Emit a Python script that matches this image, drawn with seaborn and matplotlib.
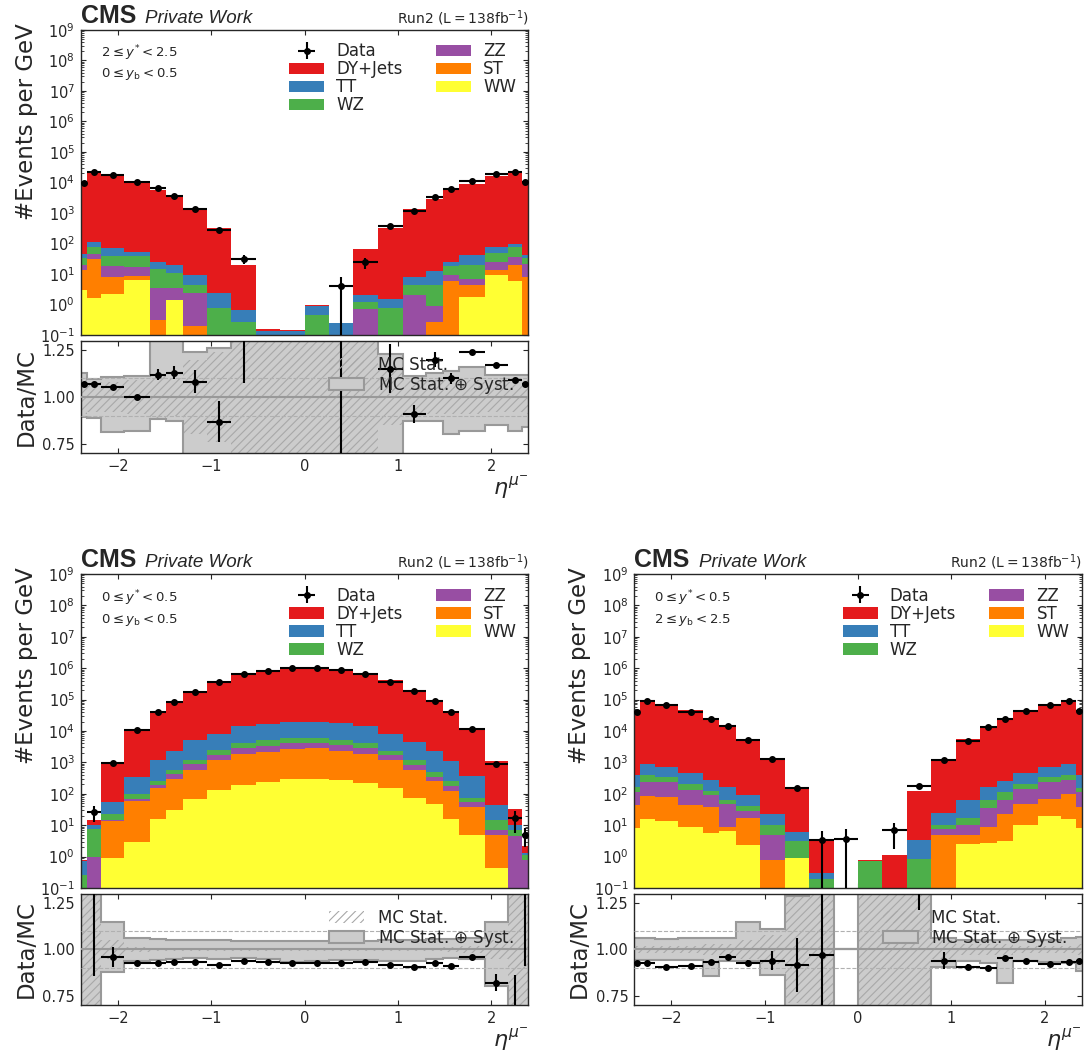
import numpy as np
import pandas as pd
import matplotlib
matplotlib.use("Agg")
import matplotlib.pyplot as plt
import seaborn as sns
from matplotlib.patches import Patch
from matplotlib.ticker import LogLocator, NullFormatter, FixedLocator, FormatStrFormatter

nan = np.nan

# ---------------- data ----------------
edges = [-2.4, -2.335, -2.18, -1.93, -1.66, -1.485, -1.305, -1.05, -0.785, -0.52, -0.26, 0.0,
         0.26, 0.52, 0.785, 1.05, 1.305, 1.485, 1.66, 1.93, 2.18, 2.335, 2.4]
processes = ["DY+Jets", "TT", "WZ", "ZZ", "ST", "WW"]
xticks = [-2, -1, 0, 1, 2]
ratio_ticks = [0.75, 1.00, 1.25]

# Panel A: 2 <= y* < 2.5, 0 <= yb < 0.5
A_dy = [9260, 19900, 16100, 10450, 5680, 3280, 1220, 313, 19.3, 0.015, 0.007, 0.07, 0.01, 62, 313, 1290, 2790, 5680, 8860, 15700, 19900, 9860]
A_tt = [10, 36, 31, 15, 11, 8.7, 4.7, 1.63, 0.4, 0.14, 0.136, 0.45, 0.24, 0.77, 0.76, 3.6, 8.1, 5.5, 22.5, 28, 22, 8]
A_wz = [14, 35, 20.5, 21.9, 10.5, 7.4, 2.0, 0.77, 0.26, 0, 0, 0.46, 0, 0.49, 0.77, 2.43, 3.29, 9.4, 12.5, 22, 39, 12]
A_zz = [6.7, 14, 10.5, 8.8, 3.2, 2.05, 2.2, 0, 0, 0, 0, 0, 0, 0.71, 0, 1.97, 0.65, 3.4, 2.6, 11.7, 16.5, 14]
A_st = [10.4, 28.4, 5.8, 1.8, 0.31, 0, 0.2, 0, 0, 0, 0, 0, 0, 0, 0, 0, 0.26, 5.7, 2.6, 4.2, 13.8, 8.0]
A_ww = [2.9, 1.65, 2.2, 6.5, 0, 1.35, 0, 0, 0, 0, 0, 0, 0, 0, 0, 0, 0, 0, 1.8, 9.1, 5.7, 0]
A_data = [9950, 21400, 17000, 10500, 6380, 3730, 1330, 274, 32, nan, nan, nan, 4.1, 24, 362, 1180, 3360, 6270, 11040, 18500, 21800, 10600]
A_err = [100, 200, 130, 105, 170, 115, 74, 35, 10.5, 0, 0, 0, 4.0, 10, 41, 65, 112, 170, 89, 80, 100, 100]
A_syst_hi = [1.127, 1.094, 1.107, 1.115, 1.35, 1.35, 1.24, 1.26, 1.35, 1.35, 1.35, 1.35, 1.35, 1.35, 1.23, 1.11, 1.13, 1.14, 1.16, 1.12, 1.12, 1.12]
A_syst_lo = [0.893, 0.89, 0.81, 0.82, 0.88, 0.87, 0.65, 0.65, 0.65, 0.65, 0.65, 0.65, 0.65, 0.65, 0.65, 0.87, 0.87, 0.80, 0.82, 0.85, 0.82, 0.84]
A_stat = [0.09, 0.08, 0.08, 0.09, 0.11, 0.10, 0.20, 0.24, 1, 1, 1, 1, 1, 1, 0.15, 0.09, 0.09, 0.09, 0.09, 0.08, 0.08, 0.09]

# Panel B: 0 <= y* < 0.5, 0 <= yb < 0.5
B_dy = [0.06, 4.2, 946, 11360, 40850, 89700, 185000, 381800, 665500, 863800, 1050600, 1050600, 912400, 705500, 401800, 200400, 93700, 42900, 11640, 1055, 23, 0.9]
B_tt = [0.48, 2.9, 32, 242, 900, 1710, 3820, 5800, 10500, 11200, 13500, 13500, 12600, 10500, 5900, 3420, 1800, 850, 285, 29, 3.2, 0.2]
B_wz = [0.26, 6.5, 7, 30, 60, 160, 320, 650, 1100, 1600, 1600, 1600, 1400, 1100, 550, 380, 150, 70, 22, 8.2, 2.3, 0.3]
B_zz = [0, 1.0, 1.8, 8, 42, 130, 270, 570, 1020, 1250, 1700, 1500, 1300, 1020, 570, 230, 100, 60, 15, 2.1, 4.5, 0.8]
B_st = [0, 0, 12.3, 57, 132, 269, 522, 1052, 1690, 1915, 2300, 2500, 2020, 1660, 1030, 494, 202, 104, 33, 4.3, 0, 0]
B_ww = [0, 0, 0.9, 3.0, 16, 31, 68, 128, 190, 235, 300, 300, 280, 220, 150, 76, 48, 16, 5.0, 0.42, 0, 0]
B_data = [nan, 26, 960, 10820, 38980, 85560, 177650, 358000, 639200, 818400, 989750, 991900, 863000, 669600, 375150, 185500, 88800, 40130, 11520, 902, 17, 5]
B_err = [0, 13.5, 55, 117, 200, 300, 400, 600, 800, 900, 1000, 1000, 900, 800, 600, 400, 300, 200, 110, 50, 11.5, 3]
B_syst_hi = [1.35, 1.35, 1.15, 1.063, 1.059, 1.053, 1.051, 1.049, 1.047, 1.047, 1.047, 1.047, 1.047, 1.047, 1.049, 1.053, 1.059, 1.059, 1.06, 1.15, 1.35, 1.35]
B_syst_lo = [0.65, 0.65, 0.88, 0.94, 0.945, 0.948, 0.955, 0.948, 0.955, 0.948, 0.93, 0.94, 0.945, 0.945, 0.94, 0.94, 0.948, 0.955, 0.95, 0.80, 0.65, 0.65]
B_stat = [1, 1, 0.05, 0.015, 0.01, 0.01, 0.01, 0.01, 0.01, 0.01, 0.01, 0.01, 0.01, 0.01, 0.01, 0.01, 0.01, 0.015, 0.02, 0.05, 1, 1]

# Panel C: 0 <= y* < 0.5, 2 <= yb < 2.5
C_dy = [44590, 95130, 74260, 44535, 25720, 14340, 5307, 1368, 164, 3.1, 0, 0.03, 1.1, 118.5, 1276, 5438, 14240, 25750, 44530, 74260, 94130, 44590]
C_tt = [240, 460, 390, 265, 158, 97, 51, 12.2, 2.8, 0.11, 0, 0, 0, 2.64, 13.5, 45, 98, 140, 265, 390, 460, 260]
C_wz = [60, 165, 115, 70, 32, 15, 13, 5.1, 2.3, 0.19, 0, 0.75, 0, 0.86, 2.8, 7, 26, 48, 65, 115, 130, 40]
C_zz = [65, 160, 154, 85, 52, 39.5, 12, 3.9, 0, 0, 0, 0, 0, 0, 3.0, 5.3, 27, 39, 92, 165, 185, 72]
C_st = [37, 69, 67, 36.5, 32.5, 2, 14.6, 0.8, 0, 0, 0, 0, 0, 0, 4.7, 2.2, 6.2, 19.8, 37.5, 51, 79, 30]
C_ww = [8, 16, 14, 8.5, 5.5, 6.5, 2.4, 0, 0.9, 0, 0, 0, 0, 0, 0, 2.5, 2.8, 3.2, 10.5, 19, 16, 8]
C_data = [41600, 88800, 67900, 40950, 24180, 13920, 5020, 1307, 156, 3.3, 3.7, nan, 6.8, 177, 1222, 4980, 12960, 24830, 42080, 69000, 88830, 42300]
C_err = [200, 300, 250, 200, 150, 120, 70, 70, 25, 3.2, 3.6, 0, 5, 29, 58, 75, 120, 160, 200, 260, 300, 210]
C_syst_hi = [1.063, 1.063, 1.057, 1.063, 1.063, 1.063, 1.15, 1.11, 1.29, 1.35, 1.0, 1.35, 1.35, 1.35, 1.063, 1.053, 1.053, 1.053, 1.053, 1.053, 1.063, 1.067]
C_syst_lo = [0.945, 0.945, 0.945, 0.945, 0.857, 0.94, 0.94, 0.86, 0.6, 0.65, 1.0, 0.65, 0.65, 0.65, 0.906, 0.94, 0.925, 0.82, 0.94, 0.935, 0.925, 0.885]
C_stat = [0.02, 0.02, 0.02, 0.02, 0.03, 0.03, 0.05, 0.08, 0.29, 1, 0, 1, 1, 1, 0.05, 0.03, 0.03, 0.03, 0.02, 0.02, 0.02, 0.03]

A_labels = [r"$2 \leq y^{*} < 2.5$", r"$0 \leq y_{\mathrm{b}} < 0.5$"]
B_labels = [r"$0 \leq y^{*} < 0.5$", r"$0 \leq y_{\mathrm{b}} < 0.5$"]
C_labels = [r"$0 \leq y^{*} < 0.5$", r"$2 \leq y_{\mathrm{b}} < 2.5$"]

# ---------------- style ----------------
sns.set_style("ticks")
plt.rcParams["font.family"] = ["DejaVu Sans"]
plt.rcParams["hatch.linewidth"] = 0.8
plt.rcParams["axes.linewidth"] = 1.0

palette = dict(zip(processes, sns.color_palette("Set1", 6)))

edges_arr = np.array(edges)
centers = 0.5 * (edges_arr[1:] + edges_arr[:-1])
halfw = 0.5 * (edges_arr[1:] - edges_arr[:-1])

fig = plt.figure(figsize=(10.87, 10.54), dpi=100)
W = 0.4121
XL, XR = 0.0741, 0.5833
pos = {
    "A": (XL, 0.6822, 0.2894, 0.5702, 0.1063),
    "B": (XL, 0.1575, 0.2979, 0.0465, 0.1053),
    "C": (XR, 0.1575, 0.2979, 0.0465, 0.1053),
}

panels = {
    "A": ([A_dy, A_tt, A_wz, A_zz, A_st, A_ww], A_data, A_err, A_syst_hi, A_syst_lo, A_stat, A_labels),
    "B": ([B_dy, B_tt, B_wz, B_zz, B_st, B_ww], B_data, B_err, B_syst_hi, B_syst_lo, B_stat, B_labels),
    "C": ([C_dy, C_tt, C_wz, C_zz, C_st, C_ww], C_data, C_err, C_syst_hi, C_syst_lo, C_stat, C_labels),
}

grey_fill = "#cccccc"
grey_edge = "#999999"
TICKSIZE = 10.5

for key, (comps, data, err, shi, slo, stat, labels) in panels.items():
    x0, y0m, hm, y0r, hr = pos[key]
    ax = fig.add_axes([x0, y0m, W, hm])
    axr = fig.add_axes([x0, y0r, W, hr])

    rows = []
    for name, vals in zip(processes, comps):
        for c, v in zip(centers, vals):
            rows.append((c, v, name))
    df = pd.DataFrame(rows, columns=["eta", "w", "process"])
    sns.histplot(data=df, x="eta", weights="w", hue="process", hue_order=processes,
                 bins=edges, multiple="stack", palette=palette, alpha=1, linewidth=0,
                 legend=False, ax=ax)
    ax.set_yscale("log")

    data = np.array(data, dtype=float)
    err = np.array(err, dtype=float)
    total = np.sum(np.array(comps, dtype=float), axis=0)

    eb = ax.errorbar(centers, data, xerr=halfw, yerr=err, fmt="o", ms=4, color="k",
                     elinewidth=1.5, capsize=0, zorder=5)

    ax.set_xlim(-2.4, 2.4)
    ax.set_ylim(0.1, 1e9)
    ax.yaxis.set_major_locator(LogLocator(base=10, numticks=20))
    ax.yaxis.set_minor_locator(LogLocator(base=10, subs=np.arange(2, 10), numticks=20))
    ax.yaxis.set_minor_formatter(NullFormatter())
    ax.xaxis.set_major_locator(FixedLocator(xticks))
    ax.tick_params(which="both", direction="in", top=True, right=True, labelbottom=False)
    ax.tick_params(which="major", length=3.5, labelsize=TICKSIZE, pad=4)
    ax.tick_params(which="minor", length=2)
    ax.set_xlabel("")
    ax.set_ylabel("#Events per GeV", fontsize=16.5, loc="top")
    ax.yaxis.set_label_coords(-0.096, 1.023)

    handles = [eb] + [Patch(facecolor=palette[p], edgecolor="none") for p in processes]
    ax.legend(handles, ["Data"] + processes, ncol=2, loc="upper right", frameon=False,
              fontsize=12, labelspacing=0.0, handlelength=2.1, handletextpad=0.72,
              columnspacing=2.0, borderaxespad=0.35)

    ax.text(0.045, 0.924, labels[0], transform=ax.transAxes, fontsize=9.5, va="center")
    ax.text(0.045, 0.855, labels[1], transform=ax.transAxes, fontsize=9.5, va="center")

    ax.text(0.0, 1.022, "CMS", transform=ax.transAxes, fontsize=18, fontweight="bold",
            family=["Liberation Sans", "DejaVu Sans"], va="baseline")
    ax.text(0.144, 1.022, "Private Work", transform=ax.transAxes, fontsize=13.5, style="italic",
            family=["Liberation Sans", "DejaVu Sans"], va="baseline")
    ax.text(1.0, 1.022, r"Run2 ($\mathrm{L}=138\mathrm{fb}^{-1}$)", transform=ax.transAxes,
            fontsize=10, ha="right", va="baseline")

    # ratio panel
    safe_total = np.where(total > 0, total, 1.0)
    ratio = np.where(total > 0, data / safe_total, nan)
    rerr = np.where(total > 0, err / safe_total, nan)
    shi_a = np.array(shi, dtype=float)
    slo_a = np.array(slo, dtype=float)
    stat_a = np.array(stat, dtype=float)

    axr.stairs(shi_a, edges, baseline=slo_a, fill=True, facecolor=grey_fill,
               edgecolor="none", zorder=1)
    axr.stairs(1 + stat_a, edges, baseline=1 - stat_a, fill=True, facecolor="none",
               edgecolor="#a8a8a8", hatch="////", linewidth=0, zorder=2)
    axr.stairs(shi_a, edges, baseline=None, color=grey_edge, lw=1.5, zorder=2)
    axr.stairs(slo_a, edges, baseline=None, color=grey_edge, lw=1.5, zorder=2)
    axr.axhline(1.0, color=grey_edge, lw=1.5, zorder=3)
    for yv in (0.9, 1.1):
        axr.axhline(yv, color="#b0b0b0", lw=0.8, ls="--", zorder=3)
    axr.errorbar(centers, ratio, xerr=halfw, yerr=rerr, fmt="o", ms=4, color="k",
                 elinewidth=1.5, capsize=0, zorder=5)

    axr.set_xlim(-2.4, 2.4)
    axr.set_ylim(0.7, 1.3)
    axr.yaxis.set_major_locator(FixedLocator(ratio_ticks))
    axr.yaxis.set_major_formatter(FormatStrFormatter("%.2f"))
    axr.xaxis.set_major_locator(FixedLocator(xticks))
    axr.tick_params(which="both", direction="in", top=True, right=True)
    axr.tick_params(which="major", length=3.5, labelsize=TICKSIZE, pad=4)
    axr.set_ylabel("Data/MC", fontsize=16.5)
    axr.yaxis.set_label_coords(-0.096, 0.5)
    axr.set_xlabel(r"$\eta^{\mu^{-}}$", fontsize=16, loc="right", labelpad=1)

    rh = [Patch(facecolor="none", edgecolor="#a8a8a8", hatch="////", linewidth=0),
          Patch(facecolor=grey_fill, edgecolor=grey_edge, linewidth=1.5)]
    axr.legend(rh, ["MC Stat.", r"MC Stat. $\oplus$ Syst."], loc="upper right", frameon=False,
               fontsize=12, labelspacing=0.05, handlelength=2.1, handletextpad=0.8)

fig.savefig("out.png", dpi=100)
